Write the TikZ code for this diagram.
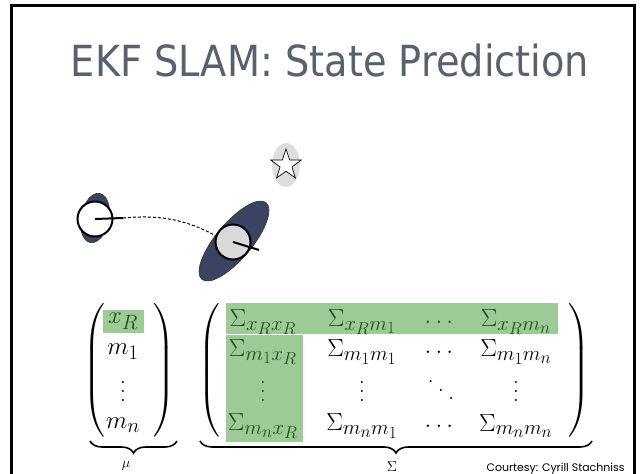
\documentclass[tikz,border=0pt]{standalone}
\usepackage{fontspec}
\usepackage{amsmath}
\newfontfamily\titlefont{DejaVu Sans}
\newfontfamily\creditfont{Poppins}
\usetikzlibrary{shapes.geometric,decorations.pathreplacing}

\definecolor{titlegrey}{HTML}{59616E}
\definecolor{navy}{HTML}{3A4461}
\definecolor{hilite}{HTML}{9CCB96}
\definecolor{darkgreen}{HTML}{1E4E1E}
\definecolor{lightgrey}{HTML}{D9D9D9}
\definecolor{starhalo}{HTML}{DEDEDE}

% widely spaced dots for the large matrices
\newcommand\wvdots{\vbox{\baselineskip=9bp\lineskiplimit=0pt\hbox{.}\hbox{.}\hbox{.}}}
\newcommand\wddots{\hbox{\raisebox{17bp}{.}\hspace{4bp}\raisebox{8.5bp}{.}\hspace{4bp}\raisebox{0bp}{.}}}

\begin{document}
\begin{tikzpicture}[x=1bp, y=-1bp,
  frameline/.style={line width=3bp, black},
  robotbody/.style={circle, draw=black, line width=2bp, minimum size=35bp, inner sep=0pt},
  heading/.style={line width=2bp, black},
  uncert/.style={fill=navy, draw=black!80, line width=0.6bp},
  trail/.style={black, line width=1bp, dash pattern=on 3bp off 2bp},
  entry/.style={inner sep=0pt, font=\Huge},
  hient/.style={entry, text=darkgreen},
  delim/.style={inner sep=0pt, font=\Huge},
  underbrace/.style={decorate, decoration={brace, mirror, amplitude=12bp}, line width=1.6bp},
  bracelabel/.style={inner sep=0pt, font=\fontsize{15}{17}\selectfont}
]
\useasboundingbox (0,0) rectangle (642,474);

% slide frame
\draw[frameline] (11,480) -- (11,6) -- (634.5,6) -- (634.5,480);

% title
\node[text=titlegrey, font=\titlefont\fontsize{43}{50}\selectfont, anchor=base, inner sep=0pt] (title) at (330,77)
  {\scalebox{0.894}[1]{EKF SLAM: State Prediction}};

% landmark with its uncertainty
\fill[starhalo] (286,165) ellipse [x radius=14, y radius=22];
\node[star, star points=5, star point ratio=2.55, minimum size=32bp, inner sep=0pt,
      draw=black, line width=0.7bp, fill=white] (landmark) at (286,165) {};

% first pose
\draw[uncert, rotate around={-11:(95,218)}] (95,218) ellipse [x radius=14, y radius=25];
\node[robotbody, fill=white] (r1) at (95,219) {};
\coordinate (h1) at (123,218);
\draw[heading] (r1.center) -- (h1);

% predicted pose
\draw[uncert, rotate around={50:(234,241)}] (234,241) ellipse [x radius=50, y radius=18];
\node[robotbody, fill=lightgrey] (r2) at (233,242) {};
\coordinate (h2) at (259,250);
\draw[heading] (r2.center) -- (h2);

% odometry trail
\draw[trail] (h1) .. controls (165,214) and (190,222) .. (r2.160);

% highlighted blocks
\fill[hilite] (103,310) rectangle (144,333);
\fill[hilite] (226,303) rectangle (558,334);
\fill[hilite] (226,335) rectangle (303,442);

% mean vector
\node[hient] (mxr) at (123,321) {$x_R$};
\node[entry] (mm1) at (123,352) {$m_1$};
\node[entry] (mvd) at (123,391) {\wvdots};
\node[entry] (mmn) at (123,425) {$m_n$};
\node[delim] (mlp) at (95,370) {$\left(\vcenter to 134bp{}\right.$};
\node[delim] (mrp) at (164,370) {$\left.\vcenter to 134bp{}\right)$};

% covariance matrix
\node[hient] (s11) at (263,322) {$\Sigma_{x_Rx_R}$};
\node[hient] (s12) at (362,322) {$\Sigma_{x_Rm_1}$};
\node[hient] (s13) at (441,322) {$\dots$};
\node[hient] (s14) at (516,322) {$\Sigma_{x_Rm_n}$};
\node[hient] (s21) at (263,352) {$\Sigma_{m_1x_R}$};
\node[entry] (s22) at (362,352) {$\Sigma_{m_1m_1}$};
\node[entry] (s23) at (441,352) {$\dots$};
\node[entry] (s24) at (516,352) {$\Sigma_{m_1m_n}$};
\node[hient] (s31) at (263,391) {\wvdots};
\node[entry] (s32) at (362,391) {\wvdots};
\node[entry] (s33) at (441,390) {\wddots};
\node[entry] (s34) at (516,391) {\wvdots};
\node[hient] (s41) at (263,426) {$\Sigma_{m_nx_R}$};
\node[entry] (s42) at (362,426) {$\Sigma_{m_nm_1}$};
\node[entry] (s43) at (441,426) {$\dots$};
\node[entry] (s44) at (516,426) {$\Sigma_{m_nm_n}$};
\node[delim] (slp) at (210,370) {$\left(\vcenter to 134bp{}\right.$};
\node[delim] (srp) at (579,370) {$\left.\vcenter to 134bp{}\right)$};

% braces and their labels
\coordinate (mb1) at (90,441);
\coordinate (mb2) at (177,441);
\draw[underbrace] (mb1) -- (mb2);
\node[bracelabel] (mu) at (126,466) {$\mu$};
\coordinate (sb1) at (200,441);
\coordinate (sb2) at (592,441);
\draw[underbrace] (sb1) -- (sb2);
\node[bracelabel] (sigma) at (392,467) {$\Sigma$};

% credit line
\node[anchor=base east, font=\creditfont\fontsize{11}{13}\selectfont] (credit) at (628,471) {Courtesy: Cyrill Stachniss};
\end{tikzpicture}
\end{document}
